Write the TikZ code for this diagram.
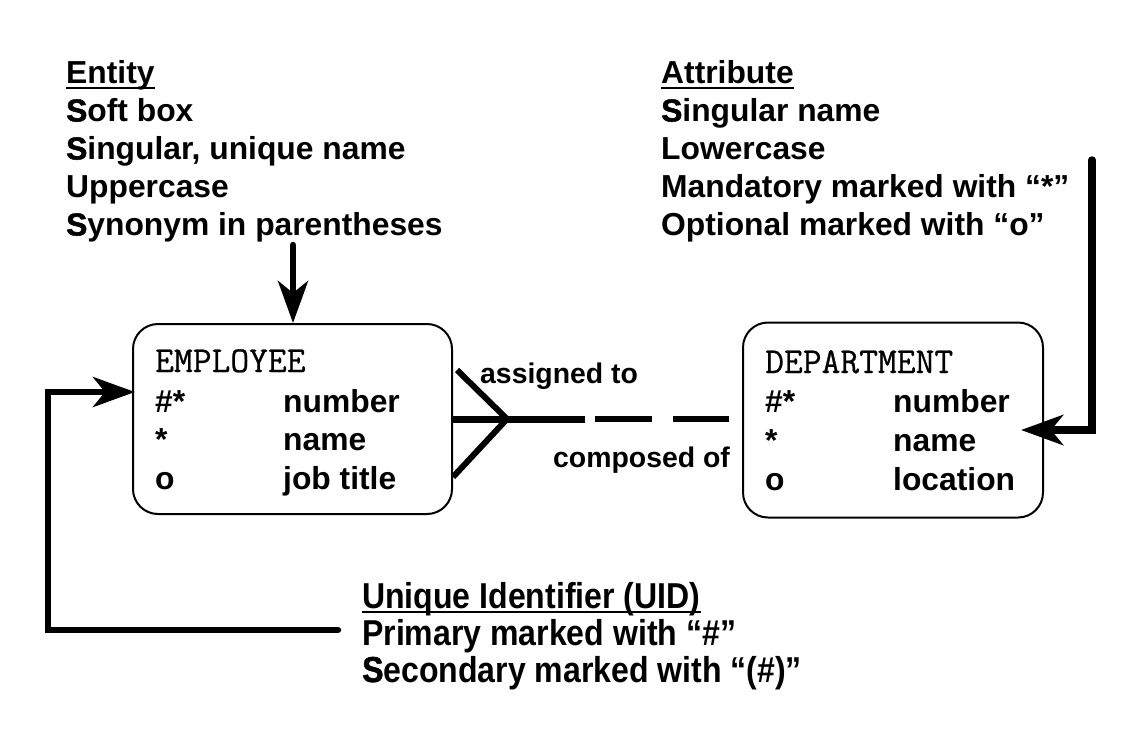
\documentclass[tikz,border=0pt]{standalone}
\usepackage{fontspec}
\setmainfont{Liberation Sans}
\newfontfamily\monofam[FakeBold=0.6]{Latin Modern Mono}
\newfontface\heavyface[FakeBold=1.5]{Liberation Sans Bold}
\newfontface\uidface[FakeStretch=0.89]{Liberation Sans Bold}
\newfontface\uidheavy[FakeStretch=0.89,FakeBold=1.5]{Liberation Sans Bold}
\usetikzlibrary{arrows.meta,calc}
\newcommand\HS[1]{{\heavyface #1}}
\newcommand\UHS[1]{{\uidheavy #1}}
\begin{document}
\begin{tikzpicture}[x=1pt,y=-1pt,
  txt/.style={anchor=base west,inner sep=0pt,font=\fontsize{31.8}{38}\selectfont\bfseries},
  mtxt/.style={anchor=base west,inner sep=0pt,font=\fontsize{36.5}{38}\selectfont\monofam},
  lbl/.style={anchor=base west,inner sep=0pt,font=\fontsize{28.4}{34}\selectfont\bfseries},
  utxt/.style={anchor=base west,inner sep=0pt,font=\fontsize{36}{38}\selectfont\uidface},
  entbox/.style={draw,line width=2pt,rounded corners=25pt,inner sep=0pt},
  ulline/.style={line width=2.5pt},
  bigarrow/.style={line width=6.5pt,line cap=round,-{Stealth[length=42pt,width=30pt,inset=12pt]}},
  relline/.style={line width=6pt},
]
\useasboundingbox (0,0) rectangle (1134,748);

% Entity notes
\node[txt] (entT) at (66,83.5) {Entity};
\node[txt] (ent1) at (66,121.5) {\HS{S}oft box};
\node[txt] (ent2) at (66,159.5) {\HS{S}ingular, unique name};
\node[txt] (ent3) at (66,197.5) {Uppercase};
\node[txt] (ent4) at (66,235.5) {\HS{S}ynonym in parentheses};
\draw[ulline] ($(entT.base west)+(0,4.5)$) -- ($(entT.base east)+(0,4.5)$);

% Attribute notes
\node[txt] (attT) at (661,83.5) {Attribute};
\node[txt] (att1) at (661,121.5) {\HS{S}ingular name};
\node[txt] (att2) at (661,159.5) {Lowercase};
\node[txt] (att3) at (661,197.5) {Mandatory marked with “*”};
\node[txt] (att4) at (661,235.5) {Optional marked with “o”};
\draw[ulline] ($(attT.base west)+(0,4.5)$) -- ($(attT.base east)+(0,4.5)$);

% UID notes
\node[utxt] (uidT) at (362,608) {Unique Identifier (UID)};
\node[utxt] (uid1) at (362,645) {Primary marked with “\#”};
\node[utxt] (uid2) at (362,682) {\UHS{S}econdary marked with “(\#)”};
\draw[ulline] ($(uidT.base west)+(0,4)$) -- ($(uidT.base east)+(0,4)$);

% Entity boxes
\node[entbox,minimum width=319pt,minimum height=190pt] (emp) at (292.5,419) {};
\node[entbox,minimum width=300pt,minimum height=195pt] (dep) at (893,420) {};

\node[mtxt] (empN) at (155,372) {EMPLOYEE};
\node[txt] (empK1) at (155,412) {\#*};
\node[txt] (empA1) at (283,412) {number};
\node[txt] (empK2) at (155,450) {*};
\node[txt] (empA2) at (283,450) {name};
\node[txt] (empK3) at (155,489) {o};
\node[txt] (empA3) at (283,489) {job title};

\node[mtxt] (depN) at (765,373) {DEPARTMENT};
\node[txt] (depK1) at (765,412) {\#*};
\node[txt] (depA1) at (893,412) {number};
\node[txt] (depK2) at (765,451) {*};
\node[txt] (depA2) at (893,451) {name};
\node[txt] (depK3) at (765,490) {o};
\node[txt] (depA3) at (893,490) {location};

% Relationship
\coordinate (cf) at (507,419);
\coordinate (cfU) at (457,370);
\coordinate (cfL) at (453,477);
\coordinate (solidEnd) at (585,419);
\coordinate (dashA) at (595,419);
\draw[relline] (cfU) -- (cf);
\draw[relline] (cfL) -- (cf);
\draw[line width=7pt] (emp.east |- cf) -- (solidEnd);
\draw[relline,dash pattern=on 57pt off 21pt] (dashA) -- ($(dep.west |- cf)+(-13,0)$);
\node[lbl] (rel1) at (480,383) {assigned to};
\node[lbl] (rel2) at (553,467) {composed of};

% Note arrows
\coordinate (entS) at (293,245);
\draw[bigarrow] (entS) -- (entS |- emp.north);

\coordinate (attS) at (1092,160);
\draw[bigarrow,line width=7.5pt] (attS) |- ($(dep.east)+(-23,10)$);

\coordinate (uidS) at (338,630);
\coordinate (uidC) at (48,630);
\draw[bigarrow] (uidS) -- (uidC) |- ($(emp.west)+(3,-27)$);
\end{tikzpicture}
\end{document}
